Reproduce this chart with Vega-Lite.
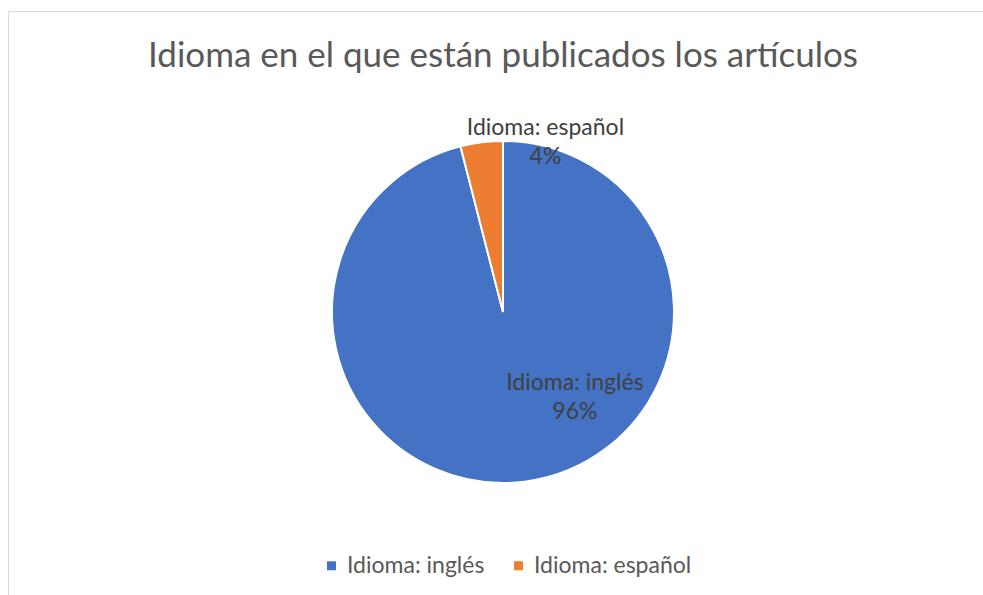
{
  "$schema": "https://vega.github.io/schema/vega-lite/v6.json",
  "width": 990,
  "height": 602,
  "autosize": {"type": "none"},
  "padding": {"left": 8, "top": 11, "right": -15, "bottom": -18},
  "background": "white",
  "view": {"stroke": "#d9d9d9", "strokeWidth": 1},
  "config": {
    "view": {"stroke": "#d9d9d9", "strokeWidth": 1},
    "font": "Lato"
  },
  "title": {
    "text": "Idioma en el que están publicados los artículos",
    "font": "Lato",
    "fontSize": 35,
    "fontWeight": "normal",
    "color": "#595959",
    "anchor": "middle",
    "offset": -63
  },
  "data": {
    "values": [
      {"idioma": "Idioma: inglés", "porcentaje": 96, "etiqueta": "Idioma: inglés\n96%"},
      {"idioma": "Idioma: español", "porcentaje": 4, "etiqueta": "Idioma: español\n4%"}
    ]
  },
  "encoding": {
    "theta": {"field": "porcentaje", "type": "quantitative", "stack": true},
    "order": {"field": "porcentaje", "type": "quantitative", "sort": "descending"}
  },
  "layer": [
    {
      "mark": {"type": "arc", "outerRadius": 171, "stroke": "white", "strokeWidth": 2},
      "encoding": {
        "color": {
          "field": "idioma",
          "type": "nominal",
          "scale": {"domain": ["Idioma: inglés", "Idioma: español"], "range": ["#4472C4", "#ED7D31"]},
          "legend": {
            "orient": "none",
            "legendX": 312,
            "legendY": 543,
            "direction": "horizontal",
            "title": null,
            "symbolType": "square",
            "symbolSize": 81,
            "symbolStrokeWidth": 0,
            "labelFont": "Lato",
            "labelFontSize": 23,
            "labelColor": "#595959",
            "labelOffset": 4,
            "columnPadding": 22
          }
        }
      }
    },
    {
      "mark": {"type": "text", "radius": 111, "dx": 58, "dy": -39, "fontSize": 23, "font": "Lato", "color": "#404040", "lineBreak": "\n", "lineHeight": 29, "align": "center", "baseline": "middle"},
      "encoding": {
        "text": {"condition": {"test": "datum.idioma === 'Idioma: inglés'", "field": "etiqueta"}, "value": ""}
      }
    },
    {
      "mark": {"type": "text", "radius": 172, "dx": 64, "dy": -13, "fontSize": 23, "font": "Lato", "color": "#404040", "lineBreak": "\n", "lineHeight": 29, "align": "center", "baseline": "middle"},
      "encoding": {
        "text": {"condition": {"test": "datum.idioma === 'Idioma: español'", "field": "etiqueta"}, "value": ""}
      }
    }
  ]
}
